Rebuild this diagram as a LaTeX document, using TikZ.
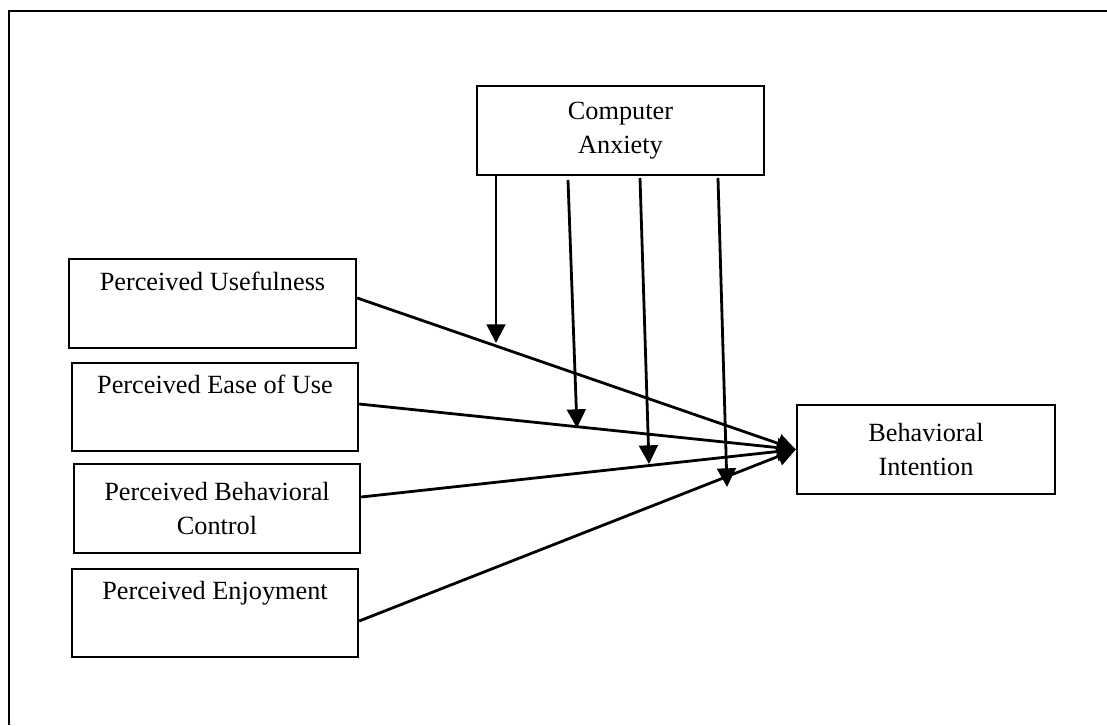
\documentclass[tikz,border=0pt]{standalone}
\usepackage{fontspec}
\setmainfont{Liberation Serif}
\usetikzlibrary{arrows.meta,calc}
\begin{document}
\begin{tikzpicture}[x=0.75pt,y=-0.75pt,
  box/.style={draw,line width=1.8pt,inner sep=0pt,align=center,
    font=\fontsize{19.7}{26}\selectfont,minimum height=66.75pt},
  link/.style={line width=2.1pt,-{Triangle[length=14pt,width=14pt]}}]
\useasboundingbox (0,0) rectangle (1107,725);
% outer frame (cut off at right and bottom)
\draw[line width=1.8pt] (9,725) -- (9,11) -- (1107,11);
% nodes
\node[box,minimum width=215.25pt] (pu)  at (212.5,303.5) {Perceived Usefulness\\\strut};
\node[box,minimum width=214.5pt,minimum height=66pt] (peu) at (215,407) {Perceived Ease of Use\\\strut};
\node[box,minimum width=214.5pt] (pbc) at (217,508.5) {Perceived Behavioral\\Control};
\node[box,minimum width=214.5pt,minimum height=66pt] (pe)  at (215,613) {Perceived Enjoyment\\\strut};
\node[box,minimum width=215.25pt] (ca)  at (620.5,130.5) {Computer\\Anxiety};
\node[box,minimum width=193.5pt] (bi)  at (926,449.5) {Behavioral\\Intention};
% moderator arrow coordinates
\coordinate (s1) at (496,175);  \coordinate (t1) at (496,343);
\coordinate (s2) at (568,180);  \coordinate (t2) at (577,428);
\coordinate (s3) at (640,178);  \coordinate (t3) at (649,464);
\coordinate (s4) at (718,178);  \coordinate (t4) at (727,487);
% main paths
\draw[link] ($(pu.east)+(0,-5.5)$) -- (bi.west);
\draw[link] ($(peu.east)+(0,-3)$) -- (bi.west);
\draw[link] ($(pbc.east)+(0,-11.5)$) -- (bi.west);
\draw[link] ($(pe.east)+(0,8)$) -- (bi.west);
% moderating arrows
\draw[link] (s1) -- (t1);
\draw[link] (s2) -- (t2);
\draw[link] (s3) -- (t3);
\draw[link] (s4) -- (t4);
\end{tikzpicture}
\end{document}
